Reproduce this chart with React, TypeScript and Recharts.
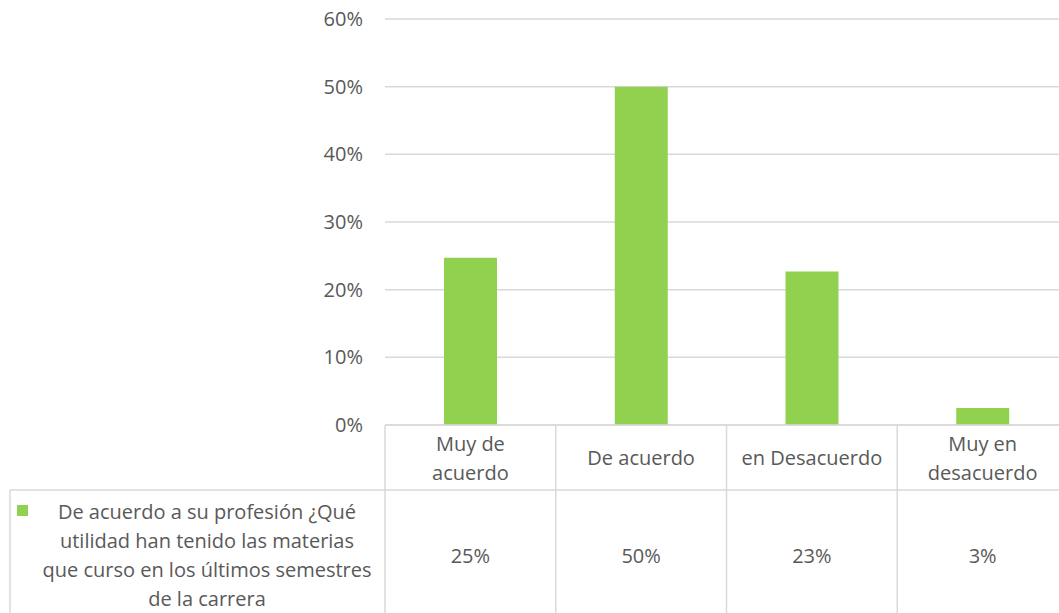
import { BarChart, Bar, XAxis, YAxis, CartesianGrid } from "recharts";

const categories = ["Muy de acuerdo", "De acuerdo", "en Desacuerdo", "Muy en desacuerdo"];
const categoryLines = [["Muy de", "acuerdo"], ["De acuerdo"], ["en Desacuerdo"], ["Muy en", "desacuerdo"]];
const values = [0.247, 0.5, 0.227, 0.025];
const seriesLines = [
  "De acuerdo a su profesión ¿Qué",
  "utilidad han tenido las materias",
  "que curso en los últimos semestres",
  "de la carrera",
];
const yTicks = [0, 0.1, 0.2, 0.3, 0.4, 0.5, 0.6];

const data = categories.map((name, i) => ({ name, value: values[i] }));

const GREEN = "#92d050";
const GRID = "#d9d9d9";
const TEXT = "#595959";
const FONT = "'Open Sans', sans-serif";

const CHART_W = 1070;
const CHART_H = 625;
const Y_AXIS_W = 385;
const MARGIN_RIGHT = 2;
const COL_W = (CHART_W - Y_AXIS_W - MARGIN_RIGHT) / categories.length;
const HEADER_H = 65;
const TABLE_H = 200;
const TABLE_LEFT = 10;

const fmtPct = (v: number) => `${Math.round(v * 100)}%`;

function TableTick(props: any) {
  const { x, y, index } = props;
  const left = x - COL_W / 2;
  const right = x + COL_W / 2;
  const lines = categoryLines[index];
  const lineH = 29;
  const headMid = y + HEADER_H / 2;
  const valMid = y + HEADER_H + 65;
  return (
    <g>
      <line x1={right} y1={y} x2={right} y2={y + TABLE_H} stroke={GRID} strokeWidth={1.5} />
      <line x1={left} y1={y + HEADER_H} x2={right} y2={y + HEADER_H} stroke={GRID} strokeWidth={1.5} />
      {lines.map((t: string, k: number) => (
        <text
          key={k}
          x={x}
          y={headMid + (k - (lines.length - 1) / 2) * lineH}
          textAnchor="middle"
          dominantBaseline="central"
          fill={TEXT}
          fontSize={20}
          fontFamily={FONT}
        >
          {t}
        </text>
      ))}
      <text x={x} y={valMid} textAnchor="middle" dominantBaseline="central" fill={TEXT} fontSize={20} fontFamily={FONT}>
        {fmtPct(values[index])}
      </text>
      {index === 0 && (
        <g>
          <line x1={left} y1={y} x2={left} y2={y + TABLE_H} stroke={GRID} strokeWidth={1.5} />
          <line x1={TABLE_LEFT} y1={y + HEADER_H} x2={left} y2={y + HEADER_H} stroke={GRID} strokeWidth={1.5} />
          <line x1={TABLE_LEFT} y1={y + HEADER_H} x2={TABLE_LEFT} y2={y + TABLE_H} stroke={GRID} strokeWidth={1.5} />
          <rect x={TABLE_LEFT + 7} y={valMid - 50} width={11} height={11} fill={GREEN} />
          {seriesLines.map((t, k) => (
            <text
              key={k}
              x={207}
              y={valMid + (k - (seriesLines.length - 1) / 2) * 29.3}
              textAnchor="middle"
              dominantBaseline="central"
              fill={TEXT}
              fontSize={20}
              fontFamily={FONT}
            >
              {t}
            </text>
          ))}
        </g>
      )}
    </g>
  );
}

export default function App() {
  return (
    <div
      style={{
        position: "absolute",
        left: 0,
        top: 0,
        width: 1059,
        height: 613,
        overflow: "hidden",
        background: "#fff",
      }}
    >
      <BarChart
        width={CHART_W}
        height={CHART_H}
        data={data}
        margin={{ top: 19, right: MARGIN_RIGHT, bottom: 0, left: 0 }}
      >
        <CartesianGrid vertical={false} stroke={GRID} strokeWidth={1.5} />
        <XAxis
          dataKey="name"
          axisLine={{ stroke: GRID, strokeWidth: 1.5 }}
          tickLine={false}
          tickSize={0}
          tickMargin={0}
          interval={0}
          height={TABLE_H}
          tick={<TableTick />}
        />
        <YAxis
          width={Y_AXIS_W}
          domain={[0, 0.6]}
          ticks={yTicks}
          tickFormatter={fmtPct}
          axisLine={false}
          tickLine={false}
          tickMargin={16}
          tick={{ fill: TEXT, fontSize: 20, fontFamily: FONT }}
        />
        <Bar dataKey="value" fill={GREEN} barSize={53} isAnimationActive={false} />
      </BarChart>
    </div>
  );
}
